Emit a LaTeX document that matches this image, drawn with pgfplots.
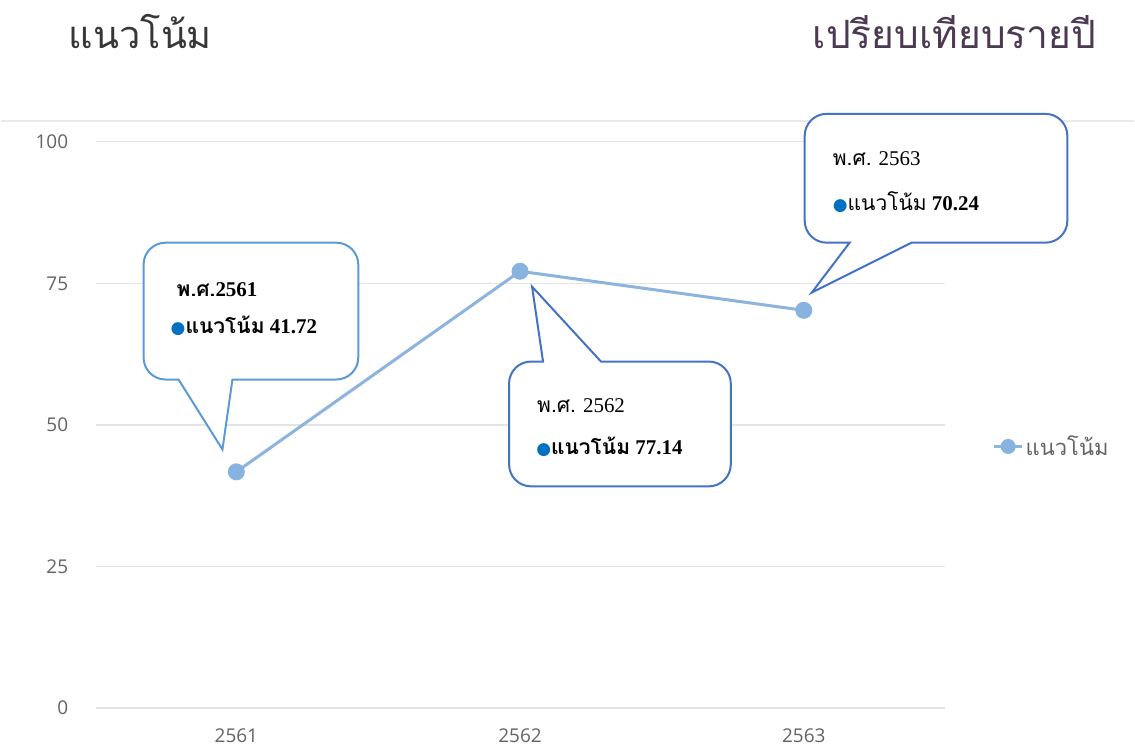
\documentclass[border=0pt]{standalone}
\usepackage{fontspec}
\usepackage{pgfplots}
\pgfplotsset{compat=1.18}
\setmainfont{Liberation Serif}
\newfontfamily\thai[Script=Thai]{Loma}
\newfontfamily\tickf{Open Sans}
\newfontfamily\sym{DejaVu Sans}
\definecolor{linec}{RGB}{140,180,222}
\definecolor{markc}{RGB}{136,178,224}
\definecolor{gridc}{RGB}{228,228,228}
\definecolor{tickc}{RGB}{100,100,100}
\definecolor{cbA}{RGB}{91,155,213}
\definecolor{cbB}{RGB}{68,114,196}
\definecolor{bul}{RGB}{0,112,192}
\definecolor{tA}{RGB}{55,55,55}
\definecolor{tB}{RGB}{75,58,82}
\newcommand\bulb{{\sym\fontsize{17}{20}\selectfont\color{bul}●}}
\begin{document}
\begin{tikzpicture}[x=1pt,y=-1pt]
\fill[white] (0,0) rectangle (1135,750);
\draw[gridc!80, line width=1.5pt] (0,121) -- (1135,121);
\node[anchor=west, inner sep=0] at (68,32) {\thai\fontsize{38}{44}\selectfont\color{tA}แนวโน้ม};
\node[anchor=east, inner sep=0] at (1097,32) {\thai\fontsize{39}{44}\selectfont\color{tB}เปรียบเทียบรายปี};
\begin{axis}[at={(95pt,-709pt)}, anchor=south west, scale only axis,
  width=850pt, height=567pt,
  xmin=-0.496, xmax=2.496, ymin=0, ymax=100,
  axis line style={draw=none}, major tick length=0pt,
  ytick={0,25,50,75,100}, xtick={0,1,2}, xticklabels={2561,2562,2563},
  ymajorgrids, grid style={color=gridc, line width=1.3pt},
  /pgf/number format/assume math mode=true,
  tick label style={font=\tickf\fontsize{19}{22}\selectfont, color=tickc},
  yticklabel style={xshift=-24pt},
  xticklabel style={yshift=-17pt},
  legend style={at={(1.053,0.462)}, anchor=west, draw=none, fill=none,
    font=\thai\fontsize{22}{26}\selectfont, text=tickc},
  legend image code/.code={\draw[linec, line width=3pt] (0pt,0pt) -- (28pt,0pt);
    \fill[markc] (14pt,0pt) circle (6pt);},
]
\addplot[linec, line width=3pt, mark=*, mark size=7pt, mark options={fill=markc, draw=markc}]
  coordinates {(0,41.72) (1,77.14) (2,70.24)};
\addlegendentry{แนวโน้ม}
\end{axis}
% callout 1
\draw[cbA, line width=2pt, fill=white, line join=miter]
  (178,380) [rounded corners=22pt] -- (143,380) -- (143,243) -- (358,243) -- (358,380) [sharp corners] -- (232,380) -- (222,450) -- cycle;
\node[anchor=base west, inner sep=0] at (176,297) {\fontsize{21}{26}\selectfont\bfseries{\thai พ.ศ.}2561};
\node[anchor=base west, inner sep=0] at (170,334) {\fontsize{21}{26}\selectfont\bulb\bfseries{\thai แนวโน้ม} 41.72};
% callout 2
\draw[cbB, line width=2pt, fill=white, line join=miter]
  (601,362) [rounded corners=22pt] -- (731,362) -- (731,487) -- (509,487) -- (509,362) [sharp corners] -- (543,362) -- (532,287) -- cycle;
\node[anchor=base west, inner sep=0] at (537,413) {\fontsize{21}{26}\selectfont{\thai พ.ศ.} 2562};
\node[anchor=base west, inner sep=0] at (536,455) {\fontsize{21}{26}\selectfont\bulb\bfseries{\thai แนวโน้ม} 77.14};
% callout 3
\draw[cbB, line width=2pt, fill=white, line join=miter]
  (850,243) [rounded corners=22pt] -- (805,243) -- (805,114) -- (1068,114) -- (1068,243) [sharp corners] -- (912,243) -- (812,293) -- cycle;
\node[anchor=base west, inner sep=0] at (833,166) {\fontsize{21}{26}\selectfont{\thai พ.ศ.} 2563};
\node[anchor=base west, inner sep=0] at (833,211) {\fontsize{21}{26}\selectfont\bulb{\thai แนวโน้ม} \textbf{70.24}};
\end{tikzpicture}
\end{document}
